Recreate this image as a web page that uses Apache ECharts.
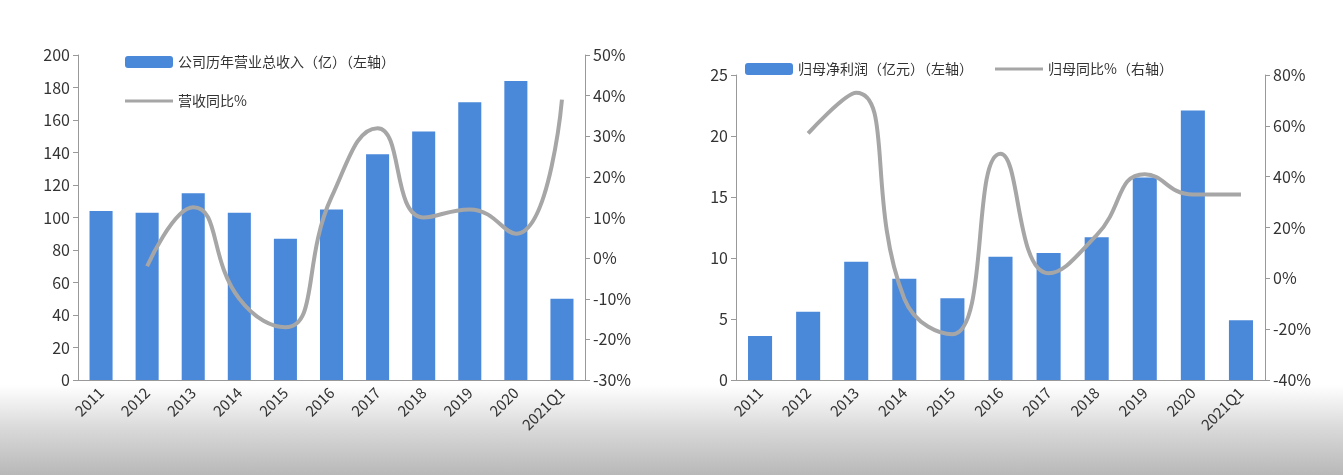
<!DOCTYPE html>
<html>
<head>
<meta charset="utf-8">
<script src="https://cdn.jsdelivr.net/npm/echarts@6/dist/echarts.min.js"></script>
<style>
  html, body { margin: 0; padding: 0; }
  body { background: linear-gradient(to bottom, #ffffff 0px, #ffffff 385px, #d8d8d8 430px, #b8b8b8 475px); }
  #main { width: 1343px; height: 475px; }
</style>
</head>
<body>
<div id="main"></div>
<script>
// 数据
const years = ['2011', '2012', '2013', '2014', '2015', '2016', '2017', '2018', '2019', '2020', '2021Q1'];
const revenue = [104, 103, 115, 103, 87, 105, 139, 153, 171, 184, 50];
const revenueYoy = [null, -2, 12.5, -10, -17, 15, 32, 10, 12, 6, 39];
const profit = [3.6, 5.6, 9.7, 8.3, 6.7, 10.1, 10.4, 11.7, 16.6, 22.1, 4.9];
const profitYoy = [null, 57, 73, -8, -22, 49, 2, 17, 41, 33, 33];

const txt = '#333';
const font = 'Noto Sans CJK SC';
const barColor = '#4a88da';
const lineColor = '#a6a6a6';
const lineIcon = 'path://M0,5h48v3h-48z';

function catAxis(gi) {
  return {
    type: 'category', gridIndex: gi, data: years,
    axisTick: { show: false },
    axisLine: { lineStyle: { color: '#999' } },
    axisLabel: { rotate: 45, color: txt, fontSize: 15, fontFamily: font, margin: 10 }
  };
}
function valAxis(gi, min, max, interval, fmt, pos) {
  return {
    type: 'value', gridIndex: gi, min: min, max: max, interval: interval, position: pos,
    splitLine: { show: false },
    axisLine: { show: true, lineStyle: { color: '#999' } },
    axisTick: { show: true, lineStyle: { color: '#999' } },
    axisLabel: { color: txt, fontSize: 16, fontFamily: font, formatter: fmt }
  };
}

const chart = echarts.init(document.getElementById('main'));
chart.setOption({
  animation: false,
  grid: [
    { left: 78, top: 55, width: 507, height: 325 },
    { left: 736, top: 75, width: 529, height: 305 }
  ],
  legend: [
    {
      left: 120, top: 50, orient: 'vertical', itemGap: 25, itemWidth: 48, itemHeight: 12,
      textStyle: { color: txt, fontSize: 14, fontFamily: font },
      data: ['公司历年营业总收入（亿）（左轴）', { name: '营收同比%', icon: lineIcon }]
    },
    {
      left: 740, top: 57, itemGap: 22, itemWidth: 48, itemHeight: 12,
      textStyle: { color: txt, fontSize: 14, fontFamily: font },
      data: ['归母净利润（亿元）（左轴）', { name: '归母同比%（右轴）', icon: lineIcon }]
    }
  ],
  xAxis: [catAxis(0), catAxis(1)],
  yAxis: [
    valAxis(0, 0, 200, 20, '{value}', 'left'),
    valAxis(0, -30, 50, 10, '{value}%', 'right'),
    valAxis(1, 0, 25, 5, '{value}', 'left'),
    valAxis(1, -40, 80, 20, '{value}%', 'right')
  ],
  series: [
    { name: '公司历年营业总收入（亿）（左轴）', type: 'bar', xAxisIndex: 0, yAxisIndex: 0, data: revenue, barWidth: '50%', itemStyle: { color: barColor } },
    { name: '营收同比%', type: 'line', xAxisIndex: 0, yAxisIndex: 1, data: revenueYoy, smooth: true, symbol: 'none', lineStyle: { color: lineColor, width: 4 }, itemStyle: { color: lineColor } },
    { name: '归母净利润（亿元）（左轴）', type: 'bar', xAxisIndex: 1, yAxisIndex: 2, data: profit, barWidth: '50%', itemStyle: { color: barColor } },
    { name: '归母同比%（右轴）', type: 'line', xAxisIndex: 1, yAxisIndex: 3, data: profitYoy, smooth: true, symbol: 'none', lineStyle: { color: lineColor, width: 4 }, itemStyle: { color: lineColor } }
  ]
});
window.onresize = function () { chart.resize(); };
</script>
</body>
</html>
